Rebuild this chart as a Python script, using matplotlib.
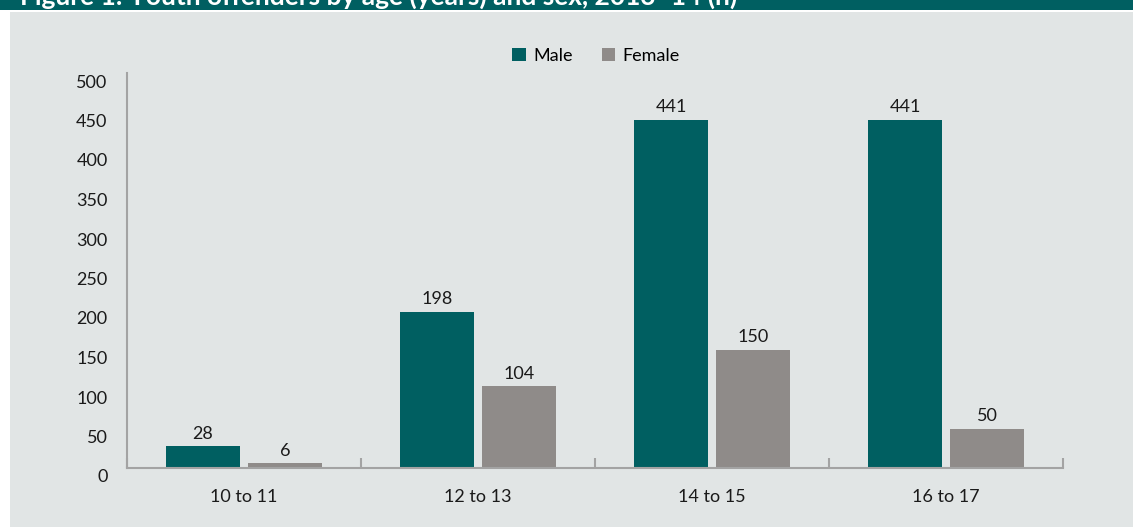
import numpy as np
import matplotlib.pyplot as plt
import matplotlib.transforms as mtransforms
from matplotlib.patches import Rectangle

# chart data
age_groups = ["10 to 11", "12 to 13", "14 to 15", "16 to 17"]
male = [28, 198, 441, 441]
female = [6, 104, 150, 50]
title = "Figure 1: Youth offenders by age (years) and sex, 2013\u201314 (n)"

teal = "#005F61"
grey_bar = "#8F8B89"
bg = "#E1E5E5"
axis_col = "#A3A3A3"

plt.rcParams['font.family'] = ['Lato', 'DejaVu Sans']

W, H = 1133, 527
fig = plt.figure(figsize=(W / 100, H / 100), dpi=100)
fig.patch.set_facecolor("white")

# background panel, title band and thin light line under it
fig.patches.append(Rectangle((10 / W, 0), 1 - 10 / W, 1 - 12 / H, transform=fig.transFigure,
                             facecolor=bg, edgecolor="none", zorder=-3))
fig.patches.append(Rectangle((0, 1 - 10 / H), 1, 10 / H, transform=fig.transFigure,
                             facecolor=teal, edgecolor="none", zorder=-2))
# the title is cropped at the top edge in the original, only its lower part shows
fig.text(20 / W, 1 - 5 / H, title, color="white", fontsize=19, fontweight="bold",
         ha="left", va="baseline")

ax = fig.add_axes([127 / W, (H - 468) / H, (1063 - 127) / W, (468 - 73) / H])
ax.set_facecolor(bg)

x = np.arange(len(age_groups))
w = 0.316
off = 0.175
b1 = ax.bar(x - off, male, w, color=teal, label="Male")
b2 = ax.bar(x + off, female, w, color=grey_bar, label="Female")
for bars in (b1, b2):
    ax.bar_label(bars, padding=3, fontsize=13, color="#1a1a1a")

ax.set_xlim(-0.5, len(age_groups) - 0.5)
ax.set_ylim(0, 500)
ax.set_yticks(range(0, 501, 50))

ax.set_xticks(x)
ax.set_xticklabels(age_groups)
ax.set_xticks(np.arange(-0.5, len(age_groups), 1.0), minor=True)
ax.tick_params(axis="x", which="major", length=0, pad=15, labelsize=13, colors="#1a1a1a")
ax.tick_params(axis="x", which="minor", direction="in", length=7, width=1.5, color=axis_col)
ax.tick_params(axis="y", length=0, pad=14, labelsize=13, colors="#1a1a1a")

# y labels sit a little below their gridline positions in the original
shift = mtransforms.ScaledTranslation(0, -8 / 100, fig.dpi_scale_trans)
for lab in ax.get_yticklabels():
    lab.set_transform(lab.get_transform() + shift)

for s in ("top", "right"):
    ax.spines[s].set_visible(False)
for s in ("left", "bottom"):
    ax.spines[s].set_color(axis_col)
    ax.spines[s].set_linewidth(1.5)

fig.legend(loc="center", bbox_to_anchor=(596 / W, 1 - 56 / H), ncol=2, frameon=False,
           fontsize=13, handlelength=0.75, handleheight=0.75, handletextpad=0.4,
           columnspacing=1.6)

fig.savefig("out.png", dpi=100, facecolor=fig.get_facecolor())
